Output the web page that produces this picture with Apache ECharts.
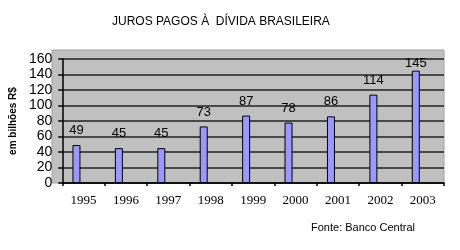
<!DOCTYPE html>
<html>
<head>
<meta charset="utf-8">
<script src="https://cdn.jsdelivr.net/npm/echarts@6/dist/echarts.min.js"></script>
<style>
  html, body { margin: 0; padding: 0; background: #fff; }
  #main { width: 460px; height: 250px; }
</style>
</head>
<body>
<div id="main"></div>
<script>
// dados
var anos = ['1995', '1996', '1997', '1998', '1999', '2000', '2001', '2002', '2003']
var juros = [49, 45, 45, 73, 87, 78, 86, 114, 145]
var vazio = [null, null, null, null, null, null, null, null, null]

var chart = echarts.init(document.getElementById('main'))

var serieJuros = juros.map(function (v, i) {
    // o último rótulo fica colado na barra (como no original)
    if (i === juros.length - 1) {
        return { value: v, label: { distance: 1 } }
    }
    return v
})

chart.setOption({
    animation: false,
    title: {
        text: 'JUROS PAGOS À  DÍVIDA BRASILEIRA',
        left: 107,
        top: 11,
        textStyle: {
            fontFamily: 'Liberation Sans',
            fontSize: 12,
            fontWeight: 'normal',
            color: '#000'
        }
    },
    graphic: [{
        type: 'rect',
        z: -10,
        silent: true,
        shape: { x: 52, y: 50, width: 392, height: 133 },
        style: { fill: '#c0c0c0', stroke: '#a0a0a0', lineWidth: 1 }
    }, {
        type: 'text',
        left: 311,
        top: 222,
        style: {
            text: 'Fonte: Banco Central',
            font: '11px "Liberation Sans"',
            fill: '#000'
        }
    }],
    grid: {
        left: 52,
        right: 16,
        top: 59,
        bottom: 67
    },
    xAxis: {
        type: 'category',
        data: anos,
        axisLine: { lineStyle: { color: '#000', width: 1.5 } },
        axisTick: { show: true, length: 3, lineStyle: { color: '#000', width: 1.5 } },
        axisLabel: {
            margin: 11,
            fontFamily: 'Liberation Serif',
            fontSize: 13,
            color: '#000'
        }
    },
    yAxis: {
        type: 'value',
        min: 0,
        max: 160,
        interval: 20,
        name: 'em bilhões R$',
        nameLocation: 'middle',
        nameGap: 36,
        nameTextStyle: {
            fontFamily: 'Liberation Sans',
            fontSize: 10,
            fontWeight: 'bold',
            color: '#000'
        },
        axisLine: { show: true, lineStyle: { color: '#000', width: 1.5 } },
        axisTick: { show: true, length: 4, lineStyle: { color: '#000', width: 1.5 } },
        axisLabel: {
            margin: 10,
            fontFamily: 'Liberation Sans',
            fontSize: 14,
            color: '#000'
        },
        splitLine: { lineStyle: { color: '#222', width: 1.5 } }
    },
    series: [{
        name: 'juros',
        type: 'bar',
        data: serieJuros,
        barWidth: 8,
        barGap: '75%',
        itemStyle: {
            color: '#9999ff',
            borderColor: '#000',
            borderWidth: 1
        },
        label: {
            show: true,
            position: 'top',
            distance: 8,
            fontFamily: 'Liberation Sans',
            fontSize: 13,
            color: '#000'
        }
    }, {
        name: 'vazio',
        type: 'bar',
        data: vazio,
        barWidth: 8
    }]
})
</script>
</body>
</html>
